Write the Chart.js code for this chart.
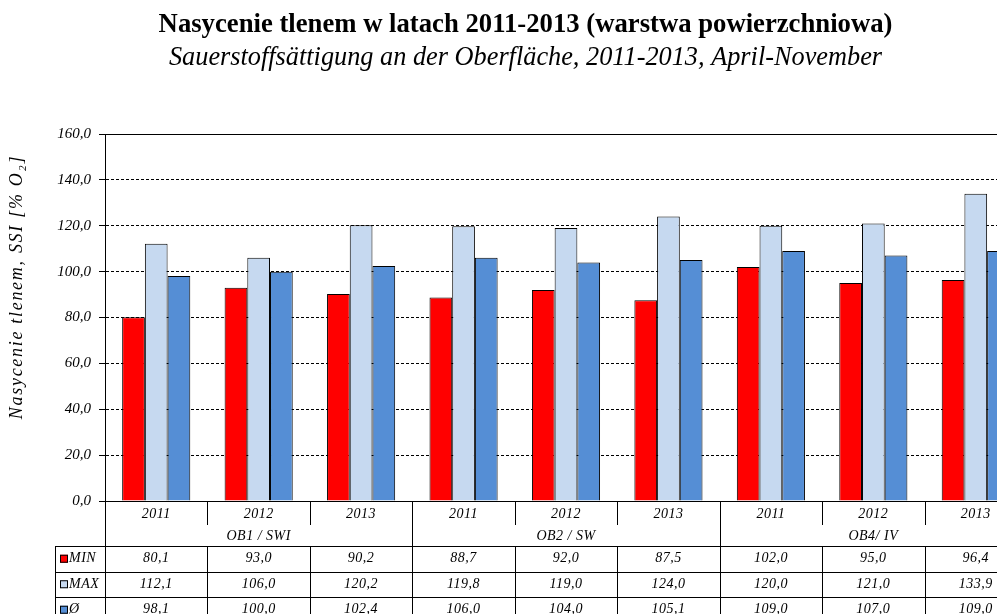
<!DOCTYPE html>
<html>
<head>
<meta charset="utf-8">
<script src="https://cdn.jsdelivr.net/npm/chart.js@4.4.1/dist/chart.umd.min.js"></script>
<style>
  html, body { margin: 0; padding: 0; background: #fff; overflow: hidden; width: 997px; height: 614px; }
  canvas { display: block; }
</style>
</head>
<body>
<canvas id="c" width="1030" height="614"></canvas>
<script>
const categories = ['2011', '2012', '2013', '2011', '2012', '2013', '2011', '2012', '2013'];
const groupLabels = ['OB1 / SWI', 'OB2 / SW', 'OB4/ IV'];
const groupSize = 3;
const minValues = [80.1, 93.0, 90.2, 88.7, 92.0, 87.5, 102.0, 95.0, 96.4];
const maxValues = [112.1, 106.0, 120.2, 119.8, 119.0, 124.0, 120.0, 121.0, 133.9];
const avgValues = [98.1, 100.0, 102.4, 106.0, 104.0, 105.1, 109.0, 107.0, 109.0];
const seriesNames = ['MIN', 'MAX', 'Ø'];
const seriesColors = ['#FF0000', '#C6D9F0', '#558ED5'];
const titleText = 'Nasycenie tlenem w latach 2011-2013 (warstwa powierzchniowa)';
const subtitleText = 'Sauerstoffsättigung an der Oberfläche, 2011-2013, April-November';
const yTitleText = 'Nasycenie tlenem, SSI [% O₂]';

const fmt = v => v.toFixed(1).replace('.', ',');
const serif = 'Liberation Serif';

const tablePlugin = {
  id: 'dataTable',
  afterDraw(chart) {
    const ctx = chart.ctx;
    const xs = chart.scales.x;
    const ys = chart.scales.y;
    const area = chart.chartArea;
    const n = categories.length;
    const cw = xs.width / n;
    const bottom = area.bottom;
    const H = chart.height;
    const tickEnd = bottom + 24;
    const tableTop = bottom + 45;
    const rowH = 25.5;
    const legendLeft = 55;
    ctx.save();
    ctx.strokeStyle = '#000';
    ctx.lineWidth = 1;
    ctx.fillStyle = '#000';
    ctx.textAlign = 'center';
    ctx.textBaseline = 'middle';
    ctx.beginPath();
    const topY = Math.round(ys.getPixelForValue(ys.max) - 0.5) + 0.5;
    ctx.moveTo(area.left, topY);
    ctx.lineTo(area.right, topY);
    ctx.moveTo(Math.round(area.left) + 0.5, bottom);
    ctx.lineTo(Math.round(area.left) + 0.5, H);
    ctx.moveTo(legendLeft + 0.5, tableTop);
    ctx.lineTo(legendLeft + 0.5, H);
    for (let r = 0; r < seriesNames.length; r++) {
      const y = Math.round(tableTop + r * rowH) + 0.5;
      ctx.moveTo(legendLeft, y);
      ctx.lineTo(area.right, y);
    }
    for (let i = 1; i <= n; i++) {
      const x = Math.round(xs.getPixelForValue(i - 1) + cw / 2) + 0.5;
      if (i % groupSize === 0) {
        ctx.moveTo(x, bottom);
        ctx.lineTo(x, H);
      } else {
        ctx.moveTo(x, bottom);
        ctx.lineTo(x, tickEnd);
        ctx.moveTo(x, tableTop);
        ctx.lineTo(x, H);
      }
    }
    ctx.stroke();
    ctx.font = 'italic 14px "' + serif + '"';
    if ('letterSpacing' in ctx) ctx.letterSpacing = '0.5px';
    categories.forEach((c, i) => {
      ctx.fillText(c, xs.getPixelForValue(i), bottom + 13);
    });
    groupLabels.forEach((g, gi) => {
      const a = xs.getPixelForValue(gi * groupSize) - cw / 2;
      const b = xs.getPixelForValue(gi * groupSize + groupSize - 1) + cw / 2;
      ctx.fillText(g, (a + b) / 2, bottom + 35);
    });
    const allSeries = [minValues, maxValues, avgValues];
    allSeries.forEach((vals, r) => {
      const yc = tableTop + r * rowH + rowH / 2;
      vals.forEach((v, i) => {
        ctx.fillText(fmt(v), xs.getPixelForValue(i), yc);
      });
      ctx.fillStyle = seriesColors[r];
      ctx.fillRect(legendLeft + 5, yc - 4, 8, 8);
      ctx.strokeRect(legendLeft + 5.5, yc - 3.5, 7, 7);
      ctx.fillStyle = '#000';
      ctx.textAlign = 'left';
      ctx.fillText(seriesNames[r], legendLeft + 14, yc);
      ctx.textAlign = 'center';
    });
    ctx.save();
    ctx.translate(17, 287);
    ctx.rotate(-Math.PI / 2);
    ctx.font = 'italic 18px "' + serif + '"';
    if ('letterSpacing' in ctx) ctx.letterSpacing = '1.7px';
    ctx.fillText(yTitleText, 0, 0);
    ctx.restore();
    ctx.restore();
  }
};

new Chart(document.getElementById('c'), {
  type: 'bar',
  data: {
    labels: categories,
    datasets: [
      { label: seriesNames[0], data: minValues, backgroundColor: seriesColors[0] },
      { label: seriesNames[1], data: maxValues, backgroundColor: seriesColors[1] },
      { label: seriesNames[2], data: avgValues, backgroundColor: seriesColors[2] }
    ]
  },
  options: {
    responsive: false,
    animation: false,
    devicePixelRatio: 1,
    layout: { padding: { left: 24, right: 3, top: 0, bottom: 0 } },
    datasets: {
      bar: {
        borderColor: '#000',
        borderWidth: 1,
        barPercentage: 1.0,
        categoryPercentage: 0.665
      }
    },
    plugins: {
      legend: { display: false },
      tooltip: { enabled: false },
      title: {
        display: true,
        text: titleText,
        color: '#000',
        font: { family: serif, size: 26.7, weight: 'bold' },
        padding: { top: 9, bottom: 0 }
      },
      subtitle: {
        display: true,
        text: subtitleText,
        color: '#000',
        font: { family: serif, size: 26.3, style: 'italic' },
        padding: { top: 1, bottom: 60.4 }
      }
    },
    scales: {
      x: {
        grid: { display: false },
        ticks: { display: false },
        border: { display: true, color: '#000', width: 1 },
        afterFit: s => { s.height = 113; }
      },
      y: {
        min: 0,
        max: 160,
        ticks: {
          stepSize: 20,
          color: '#000',
          padding: 8,
          font: { family: serif, size: 15, style: 'italic' },
          callback: v => fmt(v)
        },
        grid: { color: '#000', lineWidth: 1, tickLength: 6, tickColor: '#000' },
        border: { display: true, color: '#000', width: 1, dash: [3, 2] },
        afterFit: s => { s.width = 81; }
      }
    }
  },
  plugins: [tablePlugin]
});
</script>
</body>
</html>
